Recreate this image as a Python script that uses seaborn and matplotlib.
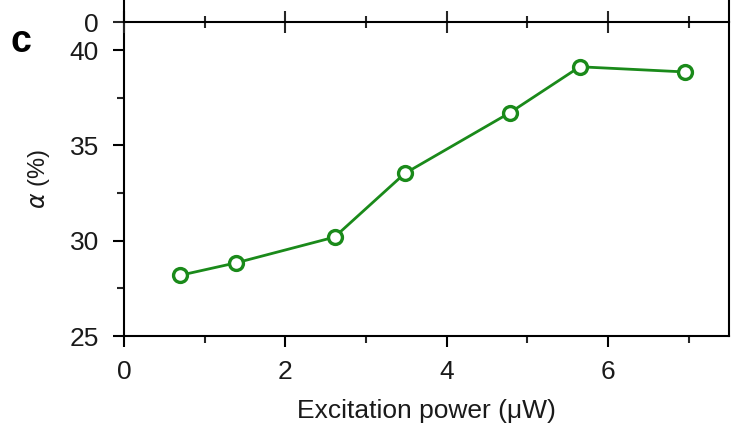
import matplotlib
matplotlib.use('Agg')
import matplotlib.pyplot as plt
import numpy as np
import pandas as pd
import seaborn as sns
from matplotlib.ticker import MultipleLocator

# values
power = [0.69, 1.39, 2.61, 3.48, 4.78, 5.65, 6.95]
alpha = [28.18, 28.84, 30.19, 33.53, 36.71, 39.13, 38.86]
y_ticks = [25, 30, 35, 40]
x_ticks = [0, 2, 4, 6]

df = pd.DataFrame({'power': power, 'alpha': alpha})

sns.set_style('ticks')
plt.rcParams['font.family'] = ['Liberation Sans', 'DejaVu Sans']
plt.rcParams['mathtext.fontset'] = 'dejavusans'
plt.rcParams['text.color'] = '#1a1a1a'
plt.rcParams['axes.labelcolor'] = '#1a1a1a'

W, H = 732, 433
fig = plt.figure(figsize=(W / 100, H / 100), dpi=100)

left, right, bottom, top = 124, 729, 336, 22
ax = fig.add_axes([left / W, (H - bottom) / H, (right - left) / W, (bottom - top) / H])

green = '#1a8a1a'
sns.lineplot(data=df, x='power', y='alpha', ax=ax, color=green, linewidth=2,
             marker='o', markersize=10, markerfacecolor='white',
             markeredgecolor=green, markeredgewidth=2.4)

ax.set_xlim(0, 7.5)
ax.set_ylim(25, 41.48)
ax.set_xticks(x_ticks)
ax.set_yticks(y_ticks)
ax.xaxis.set_minor_locator(MultipleLocator(1))
ax.yaxis.set_minor_locator(MultipleLocator(2.5))
ax.tick_params(axis='both', which='major', direction='out', length=8, width=1.5,
               labelsize=19, colors='black', labelcolor='#1a1a1a')
ax.tick_params(axis='y', which='major', pad=10)
ax.tick_params(axis='x', which='major', pad=9)
ax.tick_params(axis='both', which='minor', direction='out', length=5, width=1.5)
ax.set_xlabel('Excitation power (μW)', fontsize=19, labelpad=11)
ax.set_ylabel(r'$\alpha$ (%)', fontsize=17, labelpad=13)
for s in ['left', 'bottom', 'right']:
    ax.spines[s].set_linewidth(1.5)
    ax.spines[s].set_color('black')
ax.spines['top'].set_visible(False)

# bottom edge of the panel above
ax_up = fig.add_axes([left / W, (H - top) / H, (right - left) / W, 40 / H])
ax_up.set_xlim(0, 7.5)
ax_up.set_ylim(0, 10)
ax_up.set_xticks(x_ticks)
ax_up.xaxis.set_minor_locator(MultipleLocator(1))
ax_up.set_yticks([0])
ax_up.tick_params(axis='x', which='major', direction='inout', length=16, width=1.5,
                  labelbottom=False)
ax_up.tick_params(axis='x', which='minor', direction='inout', length=8, width=1.5)
ax_up.tick_params(axis='y', direction='out', length=8, width=1.5, labelsize=19, pad=10,
                  labelcolor='#1a1a1a')
for s in ['left', 'bottom', 'right']:
    ax_up.spines[s].set_linewidth(1.5)
    ax_up.spines[s].set_color('black')
ax_up.spines['top'].set_visible(False)
ax_up.patch.set_alpha(0)

fig.text(10 / W, (H - 42) / H, 'c', fontsize=27, fontweight='bold', color='black',
         va='center', ha='left')

fig.savefig('out.png', dpi=100)
plt.close(fig)
